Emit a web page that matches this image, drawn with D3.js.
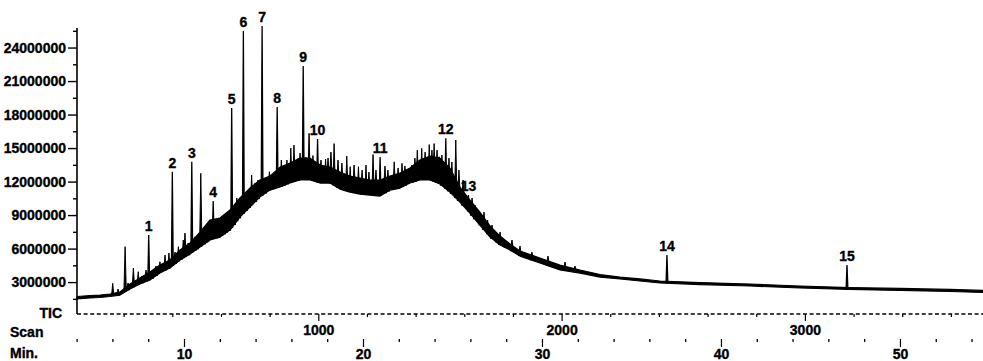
<!DOCTYPE html>
<html>
<head>
<meta charset="utf-8">
<script src="https://cdn.jsdelivr.net/npm/d3@7"></script>
<style>
  html, body { margin: 0; padding: 0; background: #fff; }
  svg { display: block; }
  text { font-family: "Liberation Sans Narrow", "Arial Narrow", "Liberation Sans", sans-serif; font-weight: bold; fill: #000; stroke: #000; stroke-width: 0.35px; }
</style>
</head>
<body>
<svg id="chart" width="983" height="361"></svg>
<script>
// Total ion current (TIC) chromatogram: intensity against scan number / retention time

// Axis ticks
const intensityTicks = [3000000, 6000000, 9000000, 12000000, 15000000, 18000000, 21000000, 24000000];
const intensityMinorTicks = [1500000, 4500000, 7500000, 10500000, 13500000, 16500000, 19500000, 22500000, 25500000];
const scanTicks = [1000, 2000, 3000];
const scanMinorTicks = [200, 400, 600, 800, 1200, 1400, 1600, 1800, 2200, 2400, 2600, 2800, 3200, 3400, 3600];
const minuteTicks = [10, 20, 30, 40, 50];
const minuteMinorTicks = [4, 6, 8, 12, 14, 16, 18, 22, 24, 26, 28, 32, 34, 36, 38, 42, 44, 46, 48, 52, 54];

// Unresolved hump: [scan, lower edge, upper edge] of the noisy trace
const envelope = [
  [8, 1490000, 1710000], [62, 1580000, 1800000], [103, 1620000, 1840000],
  [144, 1710000, 1930000], [185, 1840000, 2110000], [226, 2380000, 2830000],
  [267, 2830000, 3370000], [308, 3190000, 3900000], [349, 3810000, 4530000],
  [390, 4260000, 4980000], [432, 4980000, 5870000], [473, 5510000, 6500000],
  [514, 6140000, 7480000], [555, 6770000, 8560000], [596, 7030000, 8740000],
  [637, 7660000, 9450000], [678, 8820000, 10530000], [719, 9720000, 11420000],
  [760, 10610000, 12140000], [801, 11240000, 12490000], [843, 11510000, 13290000],
  [884, 11870000, 13650000], [925, 12140000, 14100000], [966, 12140000, 14100000],
  [1007, 11870000, 13480000], [1048, 11870000, 13300000], [1089, 11330000, 12850000],
  [1130, 11060000, 12490000], [1171, 10880000, 12310000], [1212, 10790000, 12140000],
  [1254, 10700000, 12140000], [1295, 11240000, 12490000], [1336, 11420000, 12760000],
  [1377, 11870000, 13210000], [1418, 12140000, 13930000], [1459, 12140000, 14280000],
  [1500, 11780000, 14100000], [1541, 11060000, 13210000], [1582, 10170000, 11510000],
  [1623, 9180000, 10350000], [1664, 8110000, 9270000], [1706, 7030000, 8020000],
  [1747, 6320000, 7120000], [1788, 5870000, 6410000], [1829, 5330000, 5780000],
  [1911, 4710000, 5160000], [1993, 4080000, 4530000], [2076, 3810000, 4080000],
  [2158, 3450000, 3680000], [2240, 3280000, 3450000], [2322, 3100000, 3280000],
  [2404, 2920000, 3100000], [2569, 2780000, 2960000], [2774, 2650000, 2830000],
  [2980, 2470000, 2650000], [3185, 2340000, 2510000], [3391, 2250000, 2430000],
  [3596, 2160000, 2340000], [3732, 2070000, 2250000]
];

// Numbered compounds: [label, scan, apex intensity]
const labelledPeaks = [
  ["1", 303, 7210000], ["2", 400, 12880000], ["3", 480, 13770000],
  ["4", 568, 10260000], ["5", 644, 18580000], ["6", 692, 25470000],
  ["7", 769, 25920000], ["8", 831, 18670000], ["9", 938, 22340000],
  ["10", 997, 15810000], ["11", 1254, 14190000], ["12", 1524, 15870000],
  ["13", 1617, 10790000], ["14", 2433, 5420000], ["15", 3173, 4530000]
];

// Smaller unlabelled peaks: [scan, apex intensity]
const minorPeaks = [
  [155, 2890000], [206, 6170000], [240, 4260000], [260, 3930000], [349, 4820000],
  [370, 5420000], [386, 5600000], [425, 6170000], [445, 6770000], [452, 7390000],
  [493, 7060000], [517, 12740000], [541, 7960000], [548, 7660000], [603, 7960000],
  [623, 8850000], [665, 10530000], [726, 12580000], [799, 12880000], [848, 13930000],
  [887, 15000000], [900, 15270000], [962, 16320000], [978, 14330000], [1030, 14020000],
  [1065, 15400000], [1117, 14280000], [1131, 13330000], [1165, 13330000], [1196, 13480000],
  [1225, 14420000], [1312, 13770000], [1344, 13630000], [1370, 13030000], [1407, 14820000],
  [1425, 14970000], [1456, 15310000], [1476, 15400000], [1497, 14220000], [1565, 15720000],
  [1665, 8560000], [1696, 8560000], [1733, 7060000], [1769, 6770000], [2083, 4080000]
];

// Baseline noise ("grass") riding on the hump: [scan, apex intensity]
const noiseSpikes = [
  [177, 2380000], [218, 2920000], [275, 3540000], [292, 4080000], [316, 3900000],
  [333, 4440000], [411, 5690000], [436, 5870000], [465, 6500000], [501, 6770000],
  [530, 7480000], [559, 7840000], [579, 8380000], [592, 8740000], [612, 8560000],
  [633, 9270000], [653, 9810000], [674, 10350000], [703, 10790000], [715, 11240000],
  [740, 11870000], [752, 12140000], [781, 12310000], [814, 12670000], [859, 13480000],
  [871, 13930000], [917, 14100000], [925, 14550000], [949, 14190000], [1011, 13930000],
  [1040, 14100000], [1052, 14640000], [1081, 13930000], [1097, 13660000], [1147, 13480000],
  [1180, 13030000], [1208, 12850000], [1237, 13030000], [1274, 13390000], [1286, 13030000],
  [1328, 13210000], [1356, 13390000], [1385, 13480000], [1397, 14100000], [1439, 14640000],
  [1467, 14820000], [1488, 14820000], [1508, 14370000], [1537, 14100000], [1549, 13750000],
  [1578, 13030000], [1595, 12140000], [1632, 10530000], [1644, 9900000], [1681, 9270000],
  [1714, 8110000], [1747, 7480000], [1796, 6770000], [1829, 6230000], [1878, 5690000],
  [1944, 5330000], [2014, 4800000], [2055, 4440000]
];

const svg = d3.select("#chart");

const x = d3.scaleLinear().domain([0, 3732]).range([75, 983]);
const xMin = d3.scaleLinear().domain([3.91, 54.64]).range([75, 983]);
const y = d3.scaleLinear().domain([0, 25750000]).range([315.6, 28]);

// lower edge of the hump, used as the foot of each peak
const footAt = d3.scaleLinear().domain(envelope.map(d => d[0])).range(envelope.map(d => d[1]));

// ---- intensity axis ----
const yAxis = svg.append("g").attr("transform", "translate(77,0)")
  .call(d3.axisLeft(y).tickValues(intensityTicks).tickSize(9).tickPadding(2).tickSizeOuter(0).tickFormat(d3.format("d")));
yAxis.select(".domain").attr("stroke-width", 1.6).attr("d", `M0,${y.range()[1]}V314`);
yAxis.selectAll(".tick line").attr("stroke-width", 1.4);
yAxis.selectAll("text").style("font-size", "14px").attr("font-family", null).attr("font-size", null);

const yMinor = svg.append("g").attr("transform", "translate(77,0)")
  .call(d3.axisLeft(y).tickValues(intensityMinorTicks).tickSize(4).tickFormat(""));
yMinor.select(".domain").remove();
yMinor.selectAll(".tick line").attr("stroke-width", 1.4);

// ---- TIC baseline (dashed) ----
svg.append("line")
  .attr("x1", 77).attr("x2", 983).attr("y1", 314).attr("y2", 314)
  .attr("stroke", "#000").attr("stroke-width", 1.3).attr("stroke-dasharray", "4,2.6");

// ---- scan axis ----
const scanAxis = svg.append("g").attr("transform", "translate(0,314)")
  .call(d3.axisBottom(x).tickValues(scanTicks).tickSize(7).tickPadding(4).tickFormat(d3.format("d")));
scanAxis.select(".domain").remove();
scanAxis.selectAll(".tick line").attr("stroke-width", 1.2);
scanAxis.selectAll("text").style("font-size", "14px").attr("font-family", null).attr("font-size", null);

const scanMinor = svg.append("g").attr("transform", "translate(0,314)")
  .call(d3.axisBottom(x).tickValues(scanMinorTicks).tickSize(3).tickFormat(""));
scanMinor.select(".domain").remove();
scanMinor.selectAll(".tick line").attr("stroke-width", 1.2);

// ---- retention time axis ----
const minAxis = svg.append("g").attr("transform", "translate(0,339)")
  .call(d3.axisBottom(xMin).tickValues(minuteTicks).tickSize(8).tickPadding(2).tickFormat(d3.format("d")));
minAxis.select(".domain").remove();
minAxis.selectAll(".tick line").attr("stroke-width", 1.2);
minAxis.selectAll("text").style("font-size", "14px").attr("font-family", null).attr("font-size", null);

const minMinor = svg.append("g").attr("transform", "translate(0,339)")
  .call(d3.axisBottom(xMin).tickValues(minuteMinorTicks).tickSize(3).tickFormat(""));
minMinor.select(".domain").remove();
minMinor.selectAll(".tick line").attr("stroke-width", 1.3);

// ---- row captions ----
const captions = [["TIC", 62, 318, "end"], ["Scan", 10, 337, "start"], ["Min.", 10, 358, "start"]];
svg.selectAll("text.caption").data(captions).join("text")
  .attr("class", "caption")
  .attr("x", d => d[1]).attr("y", d => d[2])
  .attr("text-anchor", d => d[3])
  .style("font-size", "14px")
  .text(d => d[0]);

// ---- chromatogram trace ----
const hump = d3.area()
  .x(d => x(d[0]))
  .y0(d => y(d[1]))
  .y1(d => y(d[2]));
svg.append("path").datum(envelope)
  .attr("d", hump)
  .attr("fill", "#000").attr("stroke", "#000").attr("stroke-width", 1.2).attr("stroke-linejoin", "round");

const spike = (scan, top, half) => {
  const base = y(footAt(scan));
  return `M${x(scan) - half},${base}L${x(scan)},${y(top)}L${x(scan) + half},${base}`;
};

svg.append("g").selectAll("path").data(noiseSpikes).join("path")
  .attr("d", d => spike(d[0], d[1], 1.6))
  .attr("fill", "#000").attr("stroke", "#000").attr("stroke-width", 1);

svg.append("g").selectAll("path").data(minorPeaks).join("path")
  .attr("d", d => spike(d[0], d[1], 1.2))
  .attr("fill", "#000").attr("stroke", "#000").attr("stroke-width", 1);

svg.append("g").selectAll("path").data(labelledPeaks).join("path")
  .attr("d", d => spike(d[1], d[2], 0.9))
  .attr("fill", "#000").attr("stroke", "#000").attr("stroke-width", 1.3);

// ---- peak numbers ----
svg.append("g").selectAll("text").data(labelledPeaks).join("text")
  .attr("x", d => x(d[1]))
  .attr("y", d => y(d[2]) - 4)
  .attr("text-anchor", "middle")
  .style("font-size", "14px")
  .text(d => d[0]);
</script>
</body>
</html>
